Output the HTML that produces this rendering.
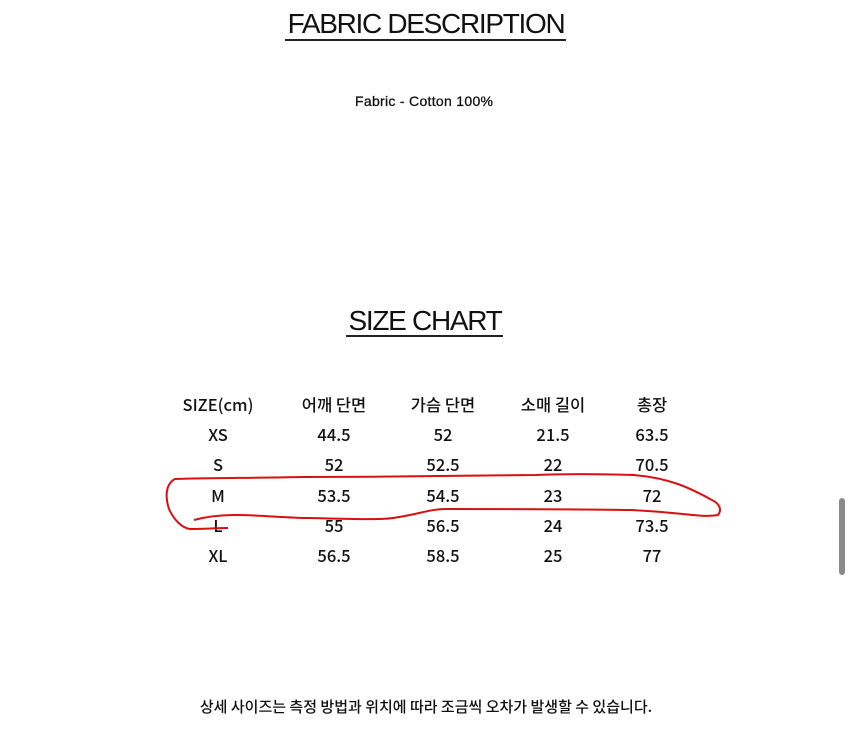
<!DOCTYPE html>
<html><head><meta charset="utf-8"><style>
html,body{margin:0;padding:0;background:#fff;}
body{width:853px;height:750px;position:relative;overflow:hidden;font-family:"Liberation Sans","Noto Sans CJK KR",sans-serif;color:#111;}
.t{position:absolute;white-space:nowrap;}
.h{font-size:28px;letter-spacing:-1.3px;transform:translateX(-50%);}
.c{position:absolute;font-family:"Noto Sans CJK KR",sans-serif;font-size:16.5px;font-weight:500;transform:translate(-50%,-50%);white-space:nowrap;}
</style></head><body>
<div class="t h" style="left:426px;top:8px;">FABRIC DESCRIPTION</div>
<div style="position:absolute;left:285px;top:39px;width:281px;height:2px;background:#222"></div>
<div class="t" style="left:355px;top:93px;font-size:14px;letter-spacing:0.3px;-webkit-text-stroke:0.3px #111;">Fabric - Cotton 100%</div>
<div class="t h" style="left:425px;top:305px;">SIZE CHART</div>
<div style="position:absolute;left:346px;top:335px;width:157px;height:2px;background:#222"></div>
<div id="tbl"></div>
<svg style="position:absolute;left:0;top:0" width="853" height="750">
<path d="M194,520 C230,510 270,518 310,518 C350,519 380,520 393,518 C420,514 430,509 446,509 C520,509 580,509 630,510 C680,512 700,518 718,515 C722,510 720,504 712,500 C690,488 670,478 634,475 C600,474 560,474 536,475 C450,476 380,477 303,477 C250,478 200,478 175,479 C164,485 166,500 169,509 C174,520 182,528 190,529 C205,529 215,528 228,528" fill="none" stroke="#d81010" stroke-width="2"/>
</svg>
<div class="t" style="left:426px;top:696px;transform:translateX(-50%);font-family:'Noto Sans CJK KR',sans-serif;font-size:15px;font-weight:500;">상세 사이즈는 측정 방법과 위치에 따라 조금씩 오차가 발생할 수 있습니다.</div>
<div style="position:absolute;left:839px;top:498px;width:6px;height:77px;border-radius:3px;background:#8a8a8a"></div>
<script>
const headers=["SIZE(cm)","어깨 단면","가슴 단면","소매 길이","총장"];
const sizes=["XS","S","M","L","XL"];
const shoulder=["44.5","52","53.5","55","56.5"];
const chest=["52","52.5","54.5","56.5","58.5"];
const sleeve=["21.5","22","23","24","25"];
const length=["63.5","70.5","72","73.5","77"];
const colX=[218,334,443,553,652];
const rowY=[404,434,464,495,525,555];
const tbl=document.getElementById('tbl');
function cell(txt,x,y,name){
  const d=document.createElement('div');
  d.className='c';
  d.textContent=txt;
  d.style.left=x+'px';d.style.top=y+'px';
  
  
  tbl.appendChild(d);
}
headers.forEach((h,i)=>cell(h,colX[i],rowY[0],'header-cell'));
const cols=[sizes,shoulder,chest,sleeve,length];
sizes.forEach((s,r)=>{cols.forEach((c,i)=>cell(c[r],colX[i],rowY[r+1],'table-cell'));});
</script>
</body></html>
